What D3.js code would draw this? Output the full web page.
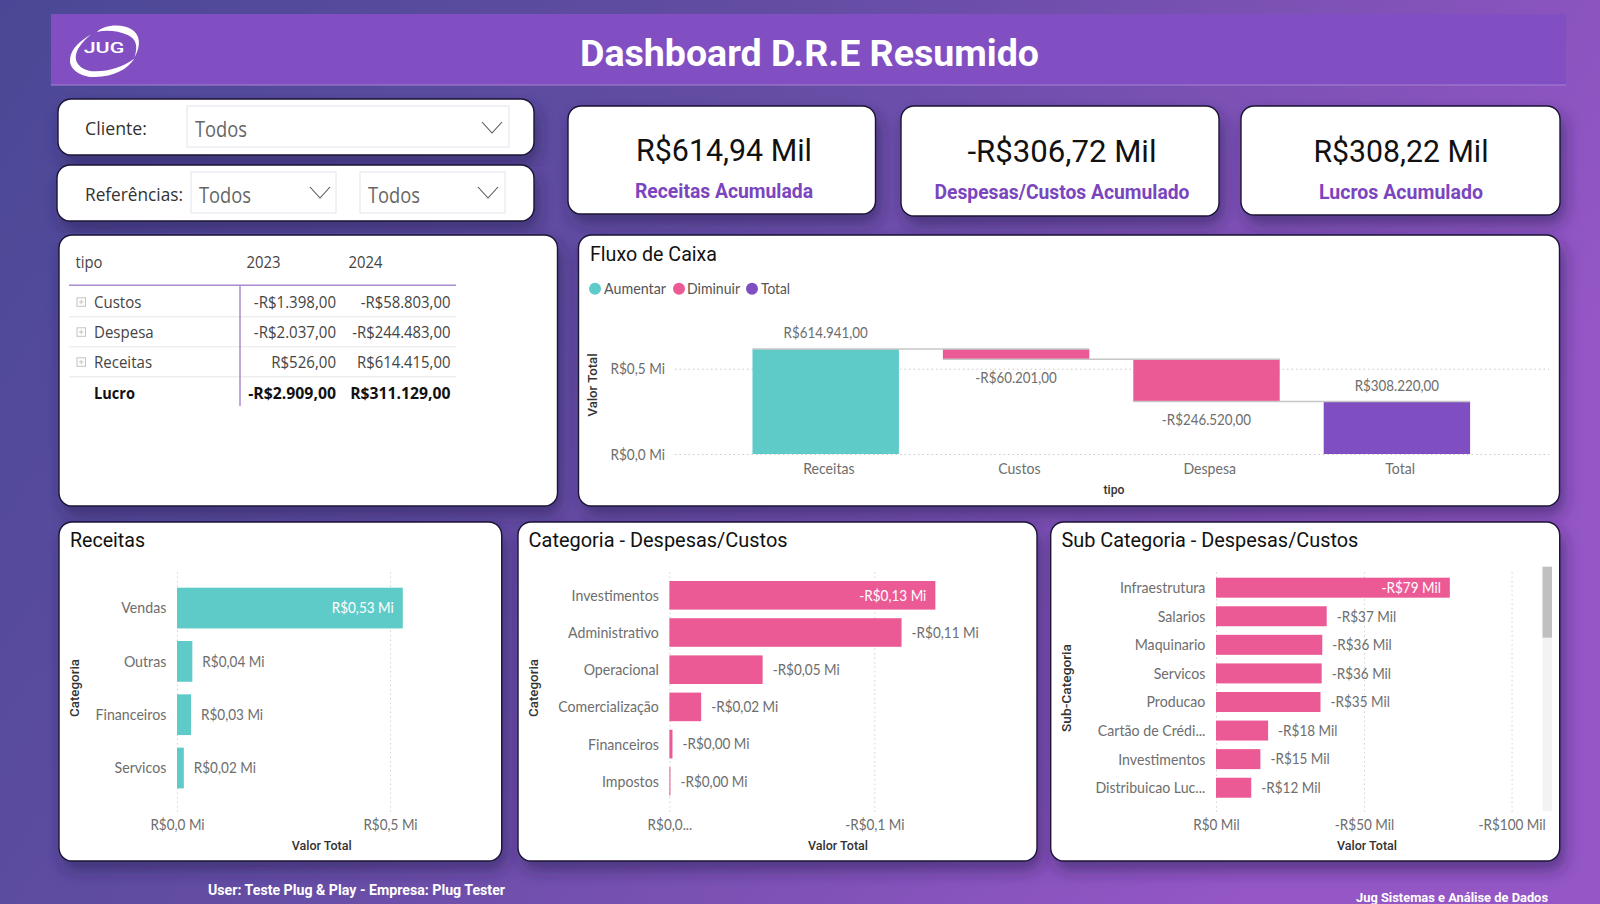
<!DOCTYPE html>
<html><head><meta charset="utf-8">
<script src="https://cdn.jsdelivr.net/npm/d3@7/dist/d3.min.js"></script>
<style>html,body{margin:0;padding:0;background:#6a4fa8;overflow:hidden}svg{display:block}</style>
</head><body><svg id="c" width="1600" height="904"></svg>
<script>
// ---------- data ----------
const flowCats = ["Receitas","Custos","Despesa","Total"];
const flowVals = [614941,-60201,-246520,308220];
const flowTicks = [0,500000];
const flowTickLabels = ["R$0,0 Mi","R$0,5 Mi"];
const legendNames = ["Aumentar","Diminuir","Total"];

const recCats = ["Vendas","Outras","Financeiros","Servicos"];
const recVals = [0.53,0.036,0.033,0.016];
const recTicks = [0,0.5];
const recTickLabels = ["R$0,0 Mi","R$0,5 Mi"];

const catCats = ["Investimentos","Administrativo","Operacional","Comercialização","Financeiros","Impostos"];
const catVals = [-0.1298,-0.1133,-0.0455,-0.0155,-0.0015,-0.0005];
const catTicks = [0,-0.1];
const catTickLabels = ["R$0,0...","-R$0,1 Mi"];

const subCats = ["Infraestrutura","Salarios","Maquinario","Servicos","Producao","Cartão de Crédi...","Investimentos","Distribuicao Luc..."];
const subVals = [-79,-37.4,-35.9,-35.7,-35.3,-17.6,-15,-11.9];
const subTicks = [0,-50,-100];
const subTickLabels = ["R$0 Mil","-R$50 Mil","-R$100 Mil"];

const tableHead = ["tipo","2023","2024"];
const tableRows = ["Custos","Despesa","Receitas"];
const table2023 = [-1398,-2037,526];
const table2024 = [-58803,-244483,614415];
const totalLabel = "Lucro";
const total2023 = -2909;
const total2024 = 311129;

const kpiValues = ["R$614,94 Mil","-R$306,72 Mil","R$308,22 Mil"];
const kpiLabels = ["Receitas Acumulada","Despesas/Custos Acumulado","Lucros Acumulado"];

// ---------- style ----------
const DIN="Roboto, sans-serif", BODY="Lato, sans-serif", TABLE="'Open Sans', sans-serif";
const TEAL="#5ECBC8", PINK="#EC5A96", PURPLE="#7F4FC1", GREY="#6e6e6e";

const loc=d3.formatLocale({decimal:",",thousands:".",grouping:[3],currency:["R$",""]});
const f2=loc.format("$,.2f"), f0=loc.format("$.0f"), fb=loc.format("$.2f");
const brl=v=>v<0?"-"+f2(-v):f2(v);
const mi=v=>(v<0?"-"+fb(-v):fb(v))+" Mi";
const mil=v=>(v<0?"-"+f0(-v):f0(v))+" Mil";

const svg=d3.select("#c");
const defs=svg.append("defs");
const bg=defs.append("linearGradient").attr("id","bg").attr("x1","0").attr("y1","0").attr("x2","1").attr("y2","0.35");
[[0,"#4A4896"],[0.45,"#644DA4"],[1,"#9556C6"]].forEach(s=>bg.append("stop").attr("offset",s[0]).attr("stop-color",s[1]));
const sh=defs.append("filter").attr("id","sh").attr("x","-10%").attr("y","-10%").attr("width","120%").attr("height","130%");
sh.append("feDropShadow").attr("dx",4).attr("dy",9).attr("stdDeviation",8).attr("flood-color","#2a1f55").attr("flood-opacity",.55);

function T(g,x,y,s,o){
  const t=g.append("text").attr("x",x).attr("y",y).attr("dy",".35em").text(s)
    .attr("font-family",o.f||BODY).attr("font-size",o.s).attr("font-weight",o.b||400)
    .attr("fill",o.c||GREY).attr("text-anchor",o.a||"start");
  if(o.w) t.attr("textLength",o.w).attr("lengthAdjust","spacingAndGlyphs");
  if(o.r) t.attr("transform",`rotate(-90 ${x} ${y})`);
  return t;
}
function fit(sel,k){sel.each(function(){const l=this.getComputedTextLength();this.setAttribute("textLength",l*k);this.setAttribute("lengthAdjust","spacingAndGlyphs");});return sel;}
function panel(x,y,w,h){
  svg.append("rect").attr("x",x).attr("y",y).attr("width",w).attr("height",h).attr("rx",13)
    .attr("fill","#fff").attr("stroke","#1b1435").attr("stroke-width",1.4).attr("filter","url(#sh)");
}

// background + header
svg.append("rect").attr("width",1600).attr("height",904).attr("fill","url(#bg)");
svg.append("rect").attr("x",51).attr("y",14).attr("width",1515).attr("height",71).attr("fill","#814FC2");
svg.append("line").attr("x1",51).attr("x2",1566).attr("y1",85).attr("y2",85).attr("stroke","#A584D4").attr("stroke-width",1.2);
T(svg,580,53,"Dashboard D.R.E Resumido",{f:DIN,s:36,b:700,c:"#fff",w:459});

// logo
const logo=svg.append("g").attr("fill","#fff").attr("transform","translate(104,51) scale(1.13,1.06) translate(-103,-51)");
logo.append("path").attr("d","M91.7 35.3C79 43 72 52 73 62C75 72 88 76 95 75.5C112 75 124 68 130 58C120 66 106 71 92 70C84 69 78 64 78 57C78 50 84 42 91.7 35.3Z");
logo.append("path").attr("d","M96.7 33C102 27 118 24 128 31C135 36 136 46 130 57C133 47 132 40 124 36C116 32 105 31 96.7 33Z");
T(logo,103,48.5,"JUG",{f:DIN,s:13,b:500,c:"#fff",a:"middle",w:36});

// slicers
panel(58,99,476,56); panel(57,165,477,56);
function dropdown(x,y,w,h,tx,ty,cx,cy){
  svg.append("rect").attr("x",x).attr("y",y).attr("width",w).attr("height",h).attr("fill","#fff").attr("stroke","#ecedf3").attr("stroke-width",1.5);
  T(svg,tx,ty,"Todos",{s:22,c:"#666",w:52,f:TABLE});
  svg.append("path").attr("d",d3.line()([[cx,cy],[cx+10,cy+11],[cx+20,cy]])).attr("fill","none").attr("stroke","#555").attr("stroke-width",1.1);
}
T(svg,85,128.5,"Cliente:",{s:19,c:"#333",w:62,f:TABLE});
dropdown(187,106,322,41,195,129.5,482,122);
T(svg,85,194.5,"Referências:",{s:19,c:"#333",w:98,f:TABLE});
dropdown(191,172,145,41,199,195.5,310,187);
dropdown(360,172,145,41,368,195.5,478,187);

// KPI cards
const cards=[[568,106,307.5,108,724,150,176,191,178],[901,106,318,110,1062,151,189,191.5,255],[1241,106,319,109,1401,151,175,191.5,164]];
cards.forEach((c,i)=>{
  panel(c[0],c[1],c[2],c[3]);
  T(svg,c[4],c[5],kpiValues[i],{f:DIN,s:32,c:"#111",a:"middle",w:c[6]});
  T(svg,c[4],c[7],kpiLabels[i],{f:DIN,s:20,b:700,c:"#7A45BE",a:"middle",w:c[8]});
});

// matrix table
panel(59,235,498.5,271);
const tb=svg.append("g");
T(tb,75.5,263,tableHead[0],{s:15.5,c:"#444",f:TABLE,w:27});
T(tb,246.5,263,tableHead[1],{s:15.5,c:"#444",f:TABLE,w:34});
T(tb,348.5,263,tableHead[2],{s:15.5,c:"#444",f:TABLE,w:34});
tb.append("line").attr("x1",69).attr("x2",456).attr("y1",285.3).attr("y2",285.3).attr("stroke","#A88BD0").attr("stroke-width",1.5);
const rowY=d3.scalePoint().domain(tableRows).range([302.3,362.3]);
tableRows.forEach((r,i)=>{
  const y=rowY(r);
  tb.append("line").attr("x1",69).attr("x2",456).attr("y1",y+14.5).attr("y2",y+14.5).attr("stroke","#e6e6e6");
  tb.append("rect").attr("x",77).attr("y",y-4.5).attr("width",8.5).attr("height",8.5).attr("fill","none").attr("stroke","#c4c4c4");
  tb.append("path").attr("d",`M79 ${y-.3}h4.5M81.2 ${y-2.5}v4.5`).attr("stroke","#c4c4c4").attr("fill","none");
  fit(T(tb,94,y,r,{s:15.5,c:"#444",f:TABLE}),.97);
  fit(T(tb,336,y,brl(table2023[i]),{s:15.5,c:"#444",f:TABLE,a:"end"}),.97);
  fit(T(tb,450.5,y,brl(table2024[i]),{s:15.5,c:"#444",f:TABLE,a:"end"}),.96);
});
tb.append("line").attr("x1",240).attr("x2",240).attr("y1",285).attr("y2",406).attr("stroke","#A88BD0").attr("stroke-width",1.5);
fit(T(tb,94,393.3,totalLabel,{s:15.5,b:700,c:"#111",f:TABLE}),.94);
fit(T(tb,336,393.3,brl(total2023),{s:15.5,b:700,c:"#111",f:TABLE,a:"end"}),1.02);
fit(T(tb,450.5,393.3,brl(total2024),{s:15.5,b:700,c:"#111",f:TABLE,a:"end"}),1.015);

// waterfall
panel(578.5,235,981,271);
T(svg,590,254,"Fluxo de Caixa",{f:DIN,s:20,c:"#111",w:127});
const lg=[[595,604,62,TEAL],[679,687,53,PINK],[752,761,29,PURPLE]];
lg.forEach((l,i)=>{
  svg.append("circle").attr("cx",l[0]).attr("cy",288.7).attr("r",6).attr("fill",l[3]);
  T(svg,l[1],288.7,legendNames[i],{s:15,c:"#555",w:l[2]});
});
const wx=d3.scaleBand().domain(flowCats).range([730.5,1492.1]).paddingInner(.231).paddingOuter(.1155);
const wy=d3.scaleLinear().domain([0,500000]).range([454,368.7]);
const wYAxis=svg.append("g").attr("transform","translate(675,0)")
  .call(d3.axisLeft(wy).tickValues(flowTicks).tickFormat((d,i)=>flowTickLabels[i]).tickSize(-874).tickPadding(10))
  .attr("font-family",BODY).attr("font-size",16).attr("color",GREY);
wYAxis.select(".domain").remove();
wYAxis.selectAll("line").attr("stroke","#c9c9c9").attr("stroke-dasharray","1.5 3");
fit(wYAxis.selectAll("text"),.85);
const ends=d3.cumsum(flowVals.slice(0,3));
const wfCol=i=>i===3?PURPLE:(flowVals[i]>=0?TEAL:PINK);
const wf=flowCats.map((c,i)=>{
  const a=i===3||i===0?0:ends[i-1], b=i===3?flowVals[3]:ends[i];
  return {c,i,a,b};
});
svg.append("g").selectAll("rect").data(wf).join("rect")
  .attr("x",d=>wx(d.c)).attr("width",wx.bandwidth())
  .attr("y",d=>wy(Math.max(d.a,d.b))).attr("height",d=>Math.abs(wy(d.a)-wy(d.b)))
  .attr("fill",d=>wfCol(d.i));
svg.append("g").selectAll("line").data(wf.slice(0,3)).join("line")
  .attr("x1",d=>wx(d.c)).attr("x2",d=>wx(flowCats[d.i+1])+wx.bandwidth())
  .attr("y1",d=>wy(d.b)).attr("y2",d=>wy(d.b)).attr("stroke","#c6c6c6").attr("stroke-width",1.5);
const wLabels=svg.append("g");
wf.forEach(d=>{
  const up=flowVals[d.i]>=0;
  const y=up?wy(Math.max(d.a,d.b))-16.4:wy(Math.min(d.a,d.b))+18.3;
  fit(T(wLabels,wx(d.c)+wx.bandwidth()/2,y,brl(flowVals[d.i]),{s:16,a:"middle"}),.835);
});
const wXAxis=svg.append("g").attr("transform","translate(3.2,454)")
  .call(d3.axisBottom(wx).tickSize(0).tickPadding(8.5))
  .attr("font-family",BODY).attr("font-size",16).attr("color",GREY);
wXAxis.select(".domain").remove();
fit(wXAxis.selectAll("text"),.88);
T(svg,593,385,"Valor Total",{f:DIN,s:12.5,b:500,c:"#333",a:"middle",w:63,r:1});
T(svg,1114,489.5,"tipo",{f:DIN,s:13,b:500,c:"#333",a:"middle",w:21});

// horizontal bar panels
function hbar(o){
  const g=svg.append("g");
  const x=d3.scaleLinear().domain([o.ticks[0],o.ticks[1]]).range([o.x0,o.x1]);
  const y=d3.scaleBand().domain(o.cats).range(o.yr).paddingInner(o.pad).paddingOuter(o.pad/2);
  const ax=g.append("g").attr("transform",`translate(0,${o.gridBottom})`)
    .call(d3.axisBottom(x).tickValues(o.ticks).tickFormat((d,i)=>o.tickLabels[i]).tickSize(-(o.gridBottom-571)).tickPadding(7))
    .attr("font-family",BODY).attr("font-size",16).attr("color",GREY);
  ax.select(".domain").remove();
  ax.selectAll("line").attr("stroke","#d2d2d2").attr("stroke-dasharray","1.5 3");
  fit(ax.selectAll("text"),.845);
  g.append("g").selectAll("rect").data(o.vals).join("rect")
    .attr("x",o.x0).attr("y",(d,i)=>y(o.cats[i])).attr("height",y.bandwidth())
    .attr("width",d=>Math.abs(x(d)-o.x0)).attr("fill",o.color);
  o.vals.forEach((v,i)=>{
    const cy=y(o.cats[i])+y.bandwidth()/2-.3;
    const t=i===0?T(g,x(v)-9,cy,o.fmt(v),{s:16,c:"#fff",a:"end"}):T(g,x(v)+10,cy,o.fmt(v),{s:16});
    fit(t,.845);
  });
  const ay=g.append("g").attr("transform",`translate(${o.x0},.3)`)
    .call(d3.axisLeft(y).tickSize(0).tickPadding(o.x0-o.right))
    .attr("font-family",BODY).attr("font-size",16).attr("color",GREY);
  ay.select(".domain").remove();
  fit(ay.selectAll("text"),.885);
  T(g,o.titleX,688,o.yTitle,{f:DIN,s:13,b:500,c:"#333",a:"middle",w:o.yTitleW,r:1});
  T(g,o.xTitleX,845.7,"Valor Total",{f:DIN,s:13.5,b:500,c:"#333",a:"middle",w:60});
}
panel(59,522,442.7,339);
T(svg,70,540,"Receitas",{f:DIN,s:20,c:"#111",w:75});
hbar({cats:recCats,vals:recVals,ticks:recTicks,tickLabels:recTickLabels,x0:177,x1:390,yr:[581.4,794.7],pad:.236,color:TEAL,fmt:mi,right:166.3,gridBottom:812,titleX:74,yTitle:"Categoria",yTitleW:58,xTitleX:321.7});

panel(518,522,519,339);
T(svg,528.6,540,"Categoria - Despesas/Custos",{f:DIN,s:20,c:"#111",w:259});
hbar({cats:catCats,vals:catVals,ticks:catTicks,tickLabels:catTickLabels,x0:669.4,x1:874.3,yr:[576.7,799.9],pad:.231,color:PINK,fmt:mi,right:658.8,gridBottom:812,titleX:533,yTitle:"Categoria",yTitleW:58,xTitleX:838});

panel(1050.7,522,509,339);
T(svg,1061.4,540,"Sub Categoria - Despesas/Custos",{f:DIN,s:20,c:"#111",w:297});
hbar({cats:subCats,vals:subVals,ticks:subTicks.slice(0,2),tickLabels:subTickLabels,x0:1216,x1:1364,yr:[573.4,802],pad:.3,color:PINK,fmt:mil,right:1205.4,gridBottom:812,titleX:1066,yTitle:"Sub-Categoria",yTitleW:88,xTitleX:1367});
// third tick of the sub-category axis
const subX=d3.scaleLinear().domain([0,-100]).range([1216,1511.6]);
const ax3=svg.append("g").attr("transform","translate(0,812)")
  .call(d3.axisBottom(subX).tickValues([subTicks[2]]).tickFormat(()=>subTickLabels[2]).tickSize(-241).tickPadding(7))
  .attr("font-family",BODY).attr("font-size",16).attr("color",GREY);
ax3.select(".domain").remove();
ax3.selectAll("line").attr("stroke","#d2d2d2").attr("stroke-dasharray","1.5 3");
fit(ax3.selectAll("text"),.845);
svg.append("rect").attr("x",1542.5).attr("y",566.7).attr("width",9.5).attr("height",244.3).attr("fill","#f3f3f3");
svg.append("rect").attr("x",1542.5).attr("y",566.7).attr("width",9.5).attr("height",71).attr("fill","#c0c0c0");

// footer
T(svg,208,889.7,"User: Teste Plug & Play - Empresa: Plug Tester",{f:DIN,s:14.5,b:700,c:"#fff",w:297});
T(svg,1356,897.5,"Jug Sistemas e Análise de Dados",{f:DIN,s:13.5,b:700,c:"#fff",w:192});
</script></body></html>
